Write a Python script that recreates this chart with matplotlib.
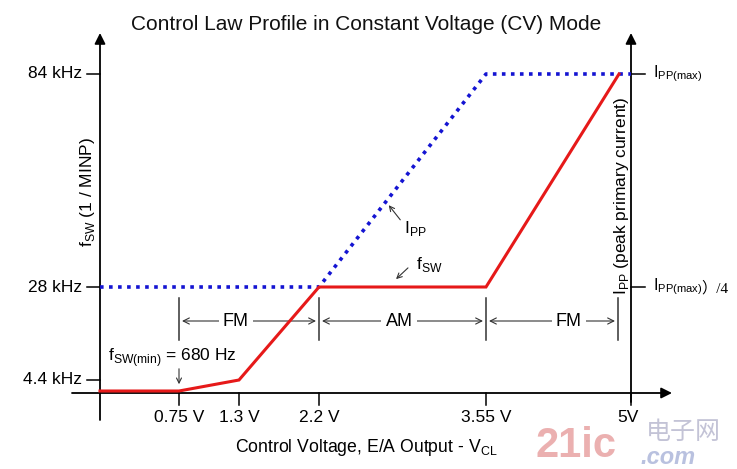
#!/usr/bin/env python3
# Control law profile schematic (CV mode), drawn on a pixel-like canvas.

import matplotlib

matplotlib.use("Agg")
import matplotlib.pyplot as plt

plt.rcParams["font.family"] = ["Liberation Sans", "DejaVu Sans", "Noto Sans CJK SC"]

# schematic positions (canvas units, y grows downward)
AXIS_X0 = 100          # left vertical axis
AXIS_X1 = 631          # right vertical axis
AXIS_Y0 = 393          # horizontal axis

# x breakpoints along the control-voltage axis
volt_labels = ["0.75 V", "1.3 V", "2.2 V", "3.55 V", "5V"]
volt_pos = [179, 239, 319, 486, 631]

# left axis: switching frequency levels
freq_labels = ["84 kHz", "28 kHz", "4.4 kHz"]
freq_pos = [74, 287, 380]

# right axis: peak primary current levels
ipp_labels = [r"I$_\mathregular{PP(max)}$", r"I$_\mathregular{PP(max)}$"]
ipp_suffix = ["", "）/4"]
ipp_pos = [74, 287]

# f_SW profile (red) and I_PP profile (blue, dotted)
fsw_x = [100, 179, 239, 319, 486, 619]
fsw_y = [391, 391, 380, 287, 287, 74]
ipp_x = [100, 319, 486, 631]
ipp_y = [287, 287, 74, 74]

# modulation regions
region_labels = ["FM", "AM", "FM"]
region_edges = [179, 319, 486, 618]
region_text_x = [236, 399, 569]

RED = "#e61919"
BLUE = "#1414d2"
GREY = "#333333"

fig = plt.figure(figsize=(7.37, 4.69), dpi=100)
ax = fig.add_axes([0, 0, 1, 1])
ax.set_xlim(0, 737)
ax.set_ylim(469, 0)
ax.axis("off")

ax.text(366, 25, "Control Law Profile in Constant Voltage (CV) Mode",
        ha="center", va="center", fontsize=15, color="#111111")

# axes with arrow heads
head = dict(arrowstyle="-|>", lw=1.3, color="black", mutation_scale=16,
            shrinkA=0, shrinkB=0)
ax.annotate("", xy=(AXIS_X0, 33), xytext=(AXIS_X0, 420), arrowprops=head)
ax.annotate("", xy=(AXIS_X1, 33), xytext=(AXIS_X1, 402), arrowprops=head)
ax.annotate("", xy=(672, AXIS_Y0), xytext=(72, AXIS_Y0), arrowprops=head)

# left ticks
for lab, y in zip(freq_labels, freq_pos):
    ax.plot([87, AXIS_X0], [y, y], color="black", lw=1.1)
    ax.text(82, y, lab, ha="right", va="center", fontsize=12.5)

# right ticks
for lab, suf, y in zip(ipp_labels, ipp_suffix, ipp_pos):
    ax.plot([AXIS_X1, 645], [y, y], color="black", lw=1.1)
    ax.text(653, y, lab, ha="left", va="center", fontsize=11.5)
    if suf:
        ax.text(701, y + 1, suf, ha="left", va="center", fontsize=11,
                family=["Liberation Serif", "Noto Sans CJK SC"])

# x ticks
for lab, x in zip(volt_labels, volt_pos):
    ax.plot([x, x], [AXIS_Y0, 405], color="black", lw=1.1)
    xt = x - 3 if lab == "5V" else x
    ax.text(xt, 418, lab, ha="center", va="center", fontsize=12.5)

ax.text(366, 448, r"Control Voltage, E/A Output - V$_\mathregular{CL}$",
        ha="center", va="center", fontsize=12.7)

# axis titles
ax.text(88, 192, r"f$_\mathregular{SW}$ (1 / MINP)", rotation=90,
        ha="center", va="center", fontsize=12.5)
ax.text(622, 196, r"I$_\mathregular{PP}$ (peak primary current)", rotation=90,
        ha="center", va="center", fontsize=12.5)

# profiles
ax.plot(ipp_x, ipp_y, color=BLUE, lw=2.6, linestyle=(0, (1.0, 1.5)),
        dash_capstyle="butt", zorder=3)
ax.plot(fsw_x, fsw_y, color=RED, lw=2.2, zorder=4, solid_joinstyle="miter")

# modulation region markers
for x in region_edges:
    ax.plot([x, x], [298, 340], color=GREY, lw=1.1)
thin = dict(arrowstyle="<->", lw=0.8, color=GREY, mutation_scale=11,
            shrinkA=0, shrinkB=0)
for lab, x0, x1, xt in zip(region_labels, region_edges[:-1], region_edges[1:],
                           region_text_x):
    ax.annotate("", xy=(x1 - 3, 321), xytext=(x0 + 3, 321), arrowprops=thin)
    ax.text(xt, 321, lab, ha="center", va="center", fontsize=13,
            bbox=dict(facecolor="white", edgecolor="none", pad=3), zorder=5)

# callouts
ax.text(108, 358, r"f$_\mathregular{SW(min)}$ = 680 Hz", ha="left", va="center",
        fontsize=12.5)
ax.annotate("", xy=(179, 387), xytext=(179, 366),
            arrowprops=dict(arrowstyle="->", lw=0.8, color=GREY, mutation_scale=9))
ax.text(404, 229, r"I$_\mathregular{PP}$", ha="left", va="center", fontsize=12.5)
ax.annotate("", xy=(387, 203), xytext=(402, 222),
            arrowprops=dict(arrowstyle="->", lw=0.8, color=GREY, mutation_scale=9))
ax.text(416, 264, r"f$_\mathregular{SW}$", ha="left", va="center", fontsize=12.5)
ax.annotate("", xy=(394, 281), xytext=(410, 266),
            arrowprops=dict(arrowstyle="->", lw=0.8, color=GREY, mutation_scale=9))

# watermark
ax.text(576, 446, "21ic", ha="center", va="center", fontsize=30, weight="bold",
        color="#e8a3a3", alpha=0.85, zorder=1)
ax.text(683, 432, "电子网", ha="center", va="center", fontsize=18,
        color="#b4b4cc", family=["Noto Sans CJK SC"], alpha=0.8, zorder=1)
ax.text(668, 457, ".com", ha="center", va="center", fontsize=17, style="italic",
        weight="bold", color="#a8b2d8", alpha=0.8, zorder=1)

fig.savefig("out.png", dpi=100)
